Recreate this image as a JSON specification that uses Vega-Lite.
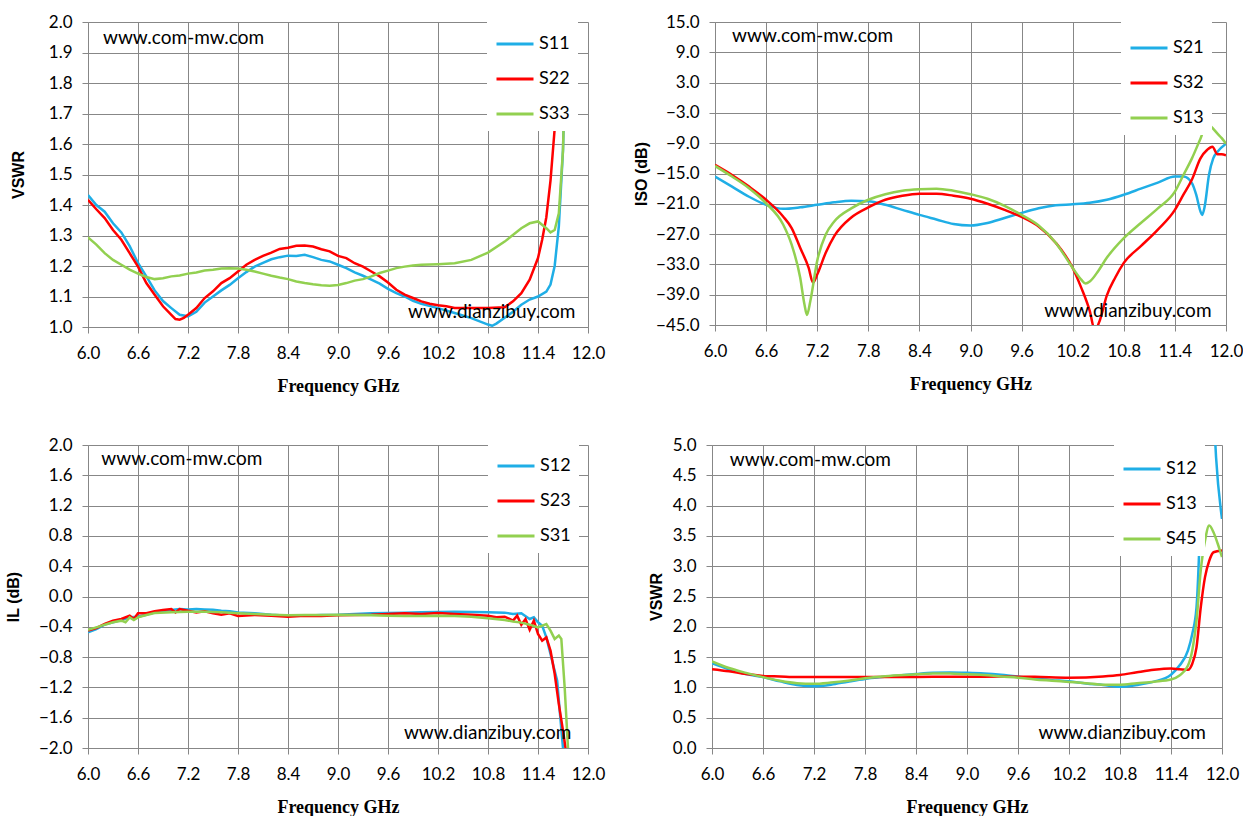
{
"$schema":"https://vega.github.io/schema/vega-lite/v6.json",
"background":"white",
"padding":{"left":5,"top":13,"right":0,"bottom":0},
"config":{
 "font":"Lato",
 "view":{"stroke":null},
 "axis":{"gridColor":"#878787","gridWidth":1,"domainColor":"#878787","domainWidth":1,"tickColor":"#878787","tickSize":6,"labelFont":"Lato","labelFontSize":17,"labelColor":"#000000","labelPadding":10,"labelOverlap":false,"labelFlush":false,"titleColor":"#000000"},
 "axisX":{"titleFont":"Liberation Serif","titleFontSize":18,"titleFontWeight":"bold","titlePadding":16,"labelPadding":12},
 "axisY":{"titleFont":"Liberation Sans","titleFontSize":16,"titleFontWeight":"bold"},
 "legend":{"fillColor":"white","padding":8,"symbolType":"stroke","symbolSize":1369,"symbolStrokeWidth":3,"labelFont":"Lato","labelFontSize":18,"labelColor":"#000000","rowPadding":6,"labelOffset":4,"orient":"none"},
 "text":{"font":"Lato","fontSize":19,"color":"#000000"}
},
"datasets":{
"p1":[
{"f":6.0,"v":1.433,"s":"S11"},{"f":6.1,"v":1.40,"s":"S11"},{"f":6.2,"v":1.378,"s":"S11"},{"f":6.3,"v":1.34,"s":"S11"},{"f":6.4,"v":1.31,"s":"S11"},{"f":6.5,"v":1.265,"s":"S11"},{"f":6.6,"v":1.21,"s":"S11"},{"f":6.7,"v":1.166,"s":"S11"},{"f":6.8,"v":1.12,"s":"S11"},{"f":6.9,"v":1.085,"s":"S11"},{"f":7.0,"v":1.062,"s":"S11"},{"f":7.1,"v":1.04,"s":"S11"},{"f":7.2,"v":1.035,"s":"S11"},{"f":7.3,"v":1.05,"s":"S11"},{"f":7.4,"v":1.08,"s":"S11"},{"f":7.5,"v":1.10,"s":"S11"},{"f":7.6,"v":1.12,"s":"S11"},{"f":7.7,"v":1.138,"s":"S11"},{"f":7.8,"v":1.16,"s":"S11"},{"f":7.9,"v":1.18,"s":"S11"},{"f":8.0,"v":1.198,"s":"S11"},{"f":8.1,"v":1.21,"s":"S11"},{"f":8.2,"v":1.222,"s":"S11"},{"f":8.3,"v":1.229,"s":"S11"},{"f":8.4,"v":1.234,"s":"S11"},{"f":8.5,"v":1.233,"s":"S11"},{"f":8.6,"v":1.237,"s":"S11"},{"f":8.7,"v":1.229,"s":"S11"},{"f":8.8,"v":1.22,"s":"S11"},{"f":8.9,"v":1.215,"s":"S11"},{"f":9.0,"v":1.204,"s":"S11"},{"f":9.1,"v":1.193,"s":"S11"},{"f":9.2,"v":1.179,"s":"S11"},{"f":9.3,"v":1.168,"s":"S11"},{"f":9.4,"v":1.155,"s":"S11"},{"f":9.5,"v":1.142,"s":"S11"},{"f":9.6,"v":1.125,"s":"S11"},{"f":9.7,"v":1.111,"s":"S11"},{"f":9.8,"v":1.10,"s":"S11"},{"f":9.9,"v":1.086,"s":"S11"},{"f":10.0,"v":1.076,"s":"S11"},{"f":10.2,"v":1.062,"s":"S11"},{"f":10.4,"v":1.046,"s":"S11"},{"f":10.6,"v":1.029,"s":"S11"},{"f":10.8,"v":1.008,"s":"S11"},{"f":10.85,"v":1.004,"s":"S11"},{"f":10.9,"v":1.011,"s":"S11"},{"f":11.0,"v":1.03,"s":"S11"},{"f":11.1,"v":1.05,"s":"S11"},{"f":11.2,"v":1.073,"s":"S11"},{"f":11.3,"v":1.09,"s":"S11"},{"f":11.4,"v":1.10,"s":"S11"},{"f":11.5,"v":1.116,"s":"S11"},{"f":11.55,"v":1.139,"s":"S11"},{"f":11.6,"v":1.2,"s":"S11"},{"f":11.65,"v":1.33,"s":"S11"},{"f":11.7,"v":1.58,"s":"S11"},{"f":11.74,"v":2.0,"s":"S11"},{"f":11.76,"v":2.3,"s":"S11"},
{"f":6.0,"v":1.417,"s":"S22"},{"f":6.1,"v":1.386,"s":"S22"},{"f":6.2,"v":1.357,"s":"S22"},{"f":6.3,"v":1.318,"s":"S22"},{"f":6.4,"v":1.286,"s":"S22"},{"f":6.5,"v":1.242,"s":"S22"},{"f":6.6,"v":1.198,"s":"S22"},{"f":6.7,"v":1.144,"s":"S22"},{"f":6.8,"v":1.106,"s":"S22"},{"f":6.9,"v":1.068,"s":"S22"},{"f":7.0,"v":1.04,"s":"S22"},{"f":7.05,"v":1.026,"s":"S22"},{"f":7.1,"v":1.024,"s":"S22"},{"f":7.15,"v":1.03,"s":"S22"},{"f":7.2,"v":1.04,"s":"S22"},{"f":7.3,"v":1.062,"s":"S22"},{"f":7.4,"v":1.095,"s":"S22"},{"f":7.5,"v":1.117,"s":"S22"},{"f":7.6,"v":1.144,"s":"S22"},{"f":7.7,"v":1.16,"s":"S22"},{"f":7.8,"v":1.182,"s":"S22"},{"f":7.9,"v":1.204,"s":"S22"},{"f":8.0,"v":1.22,"s":"S22"},{"f":8.1,"v":1.233,"s":"S22"},{"f":8.2,"v":1.244,"s":"S22"},{"f":8.3,"v":1.256,"s":"S22"},{"f":8.4,"v":1.26,"s":"S22"},{"f":8.5,"v":1.266,"s":"S22"},{"f":8.6,"v":1.267,"s":"S22"},{"f":8.7,"v":1.264,"s":"S22"},{"f":8.8,"v":1.255,"s":"S22"},{"f":8.9,"v":1.248,"s":"S22"},{"f":9.0,"v":1.233,"s":"S22"},{"f":9.1,"v":1.226,"s":"S22"},{"f":9.2,"v":1.209,"s":"S22"},{"f":9.3,"v":1.198,"s":"S22"},{"f":9.4,"v":1.182,"s":"S22"},{"f":9.5,"v":1.166,"s":"S22"},{"f":9.6,"v":1.146,"s":"S22"},{"f":9.7,"v":1.122,"s":"S22"},{"f":9.8,"v":1.106,"s":"S22"},{"f":9.9,"v":1.095,"s":"S22"},{"f":10.0,"v":1.084,"s":"S22"},{"f":10.1,"v":1.076,"s":"S22"},{"f":10.2,"v":1.071,"s":"S22"},{"f":10.3,"v":1.068,"s":"S22"},{"f":10.4,"v":1.062,"s":"S22"},{"f":10.6,"v":1.062,"s":"S22"},{"f":10.8,"v":1.062,"s":"S22"},{"f":11.0,"v":1.065,"s":"S22"},{"f":11.1,"v":1.084,"s":"S22"},{"f":11.2,"v":1.111,"s":"S22"},{"f":11.3,"v":1.155,"s":"S22"},{"f":11.4,"v":1.226,"s":"S22"},{"f":11.45,"v":1.286,"s":"S22"},{"f":11.5,"v":1.36,"s":"S22"},{"f":11.55,"v":1.48,"s":"S22"},{"f":11.6,"v":1.65,"s":"S22"},{"f":11.63,"v":1.81,"s":"S22"},{"f":11.66,"v":2.0,"s":"S22"},{"f":11.68,"v":2.2,"s":"S22"},
{"f":6.0,"v":1.294,"s":"S33"},{"f":6.1,"v":1.27,"s":"S33"},{"f":6.2,"v":1.242,"s":"S33"},{"f":6.3,"v":1.22,"s":"S33"},{"f":6.4,"v":1.204,"s":"S33"},{"f":6.5,"v":1.188,"s":"S33"},{"f":6.6,"v":1.175,"s":"S33"},{"f":6.7,"v":1.164,"s":"S33"},{"f":6.8,"v":1.157,"s":"S33"},{"f":6.9,"v":1.16,"s":"S33"},{"f":7.0,"v":1.166,"s":"S33"},{"f":7.1,"v":1.169,"s":"S33"},{"f":7.2,"v":1.175,"s":"S33"},{"f":7.3,"v":1.179,"s":"S33"},{"f":7.4,"v":1.185,"s":"S33"},{"f":7.5,"v":1.188,"s":"S33"},{"f":7.6,"v":1.192,"s":"S33"},{"f":7.7,"v":1.193,"s":"S33"},{"f":7.8,"v":1.192,"s":"S33"},{"f":7.9,"v":1.188,"s":"S33"},{"f":8.0,"v":1.182,"s":"S33"},{"f":8.1,"v":1.175,"s":"S33"},{"f":8.2,"v":1.168,"s":"S33"},{"f":8.3,"v":1.162,"s":"S33"},{"f":8.4,"v":1.157,"s":"S33"},{"f":8.5,"v":1.149,"s":"S33"},{"f":8.6,"v":1.144,"s":"S33"},{"f":8.7,"v":1.14,"s":"S33"},{"f":8.8,"v":1.137,"s":"S33"},{"f":8.9,"v":1.135,"s":"S33"},{"f":9.0,"v":1.138,"s":"S33"},{"f":9.1,"v":1.144,"s":"S33"},{"f":9.2,"v":1.152,"s":"S33"},{"f":9.3,"v":1.157,"s":"S33"},{"f":9.4,"v":1.166,"s":"S33"},{"f":9.5,"v":1.177,"s":"S33"},{"f":9.6,"v":1.185,"s":"S33"},{"f":9.7,"v":1.193,"s":"S33"},{"f":9.8,"v":1.198,"s":"S33"},{"f":9.9,"v":1.202,"s":"S33"},{"f":10.0,"v":1.204,"s":"S33"},{"f":10.2,"v":1.206,"s":"S33"},{"f":10.4,"v":1.209,"s":"S33"},{"f":10.6,"v":1.22,"s":"S33"},{"f":10.8,"v":1.244,"s":"S33"},{"f":11.0,"v":1.28,"s":"S33"},{"f":11.2,"v":1.324,"s":"S33"},{"f":11.3,"v":1.34,"s":"S33"},{"f":11.4,"v":1.346,"s":"S33"},{"f":11.5,"v":1.324,"s":"S33"},{"f":11.55,"v":1.31,"s":"S33"},{"f":11.6,"v":1.318,"s":"S33"},{"f":11.65,"v":1.373,"s":"S33"},{"f":11.7,"v":1.58,"s":"S33"},{"f":11.74,"v":2.0,"s":"S33"},{"f":11.76,"v":2.3,"s":"S33"}
],
"p2":[
{"f":6.0,"v":-15.6,"s":"S21"},{"f":6.2,"v":-17.6,"s":"S21"},{"f":6.4,"v":-19.6,"s":"S21"},{"f":6.6,"v":-21.2,"s":"S21"},{"f":6.8,"v":-22.0,"s":"S21"},{"f":7.0,"v":-21.7,"s":"S21"},{"f":7.2,"v":-21.2,"s":"S21"},{"f":7.4,"v":-20.7,"s":"S21"},{"f":7.6,"v":-20.4,"s":"S21"},{"f":7.8,"v":-20.5,"s":"S21"},{"f":8.0,"v":-21.2,"s":"S21"},{"f":8.2,"v":-22.2,"s":"S21"},{"f":8.4,"v":-23.2,"s":"S21"},{"f":8.6,"v":-24.1,"s":"S21"},{"f":8.8,"v":-25.0,"s":"S21"},{"f":9.0,"v":-25.3,"s":"S21"},{"f":9.2,"v":-24.8,"s":"S21"},{"f":9.4,"v":-23.8,"s":"S21"},{"f":9.6,"v":-22.8,"s":"S21"},{"f":9.8,"v":-21.9,"s":"S21"},{"f":10.0,"v":-21.3,"s":"S21"},{"f":10.2,"v":-21.1,"s":"S21"},{"f":10.4,"v":-20.8,"s":"S21"},{"f":10.6,"v":-20.2,"s":"S21"},{"f":10.8,"v":-19.2,"s":"S21"},{"f":11.0,"v":-18.0,"s":"S21"},{"f":11.2,"v":-16.8,"s":"S21"},{"f":11.4,"v":-15.6,"s":"S21"},{"f":11.5,"v":-15.6,"s":"S21"},{"f":11.6,"v":-16.9,"s":"S21"},{"f":11.65,"v":-19.2,"s":"S21"},{"f":11.7,"v":-22.5,"s":"S21"},{"f":11.72,"v":-23.2,"s":"S21"},{"f":11.75,"v":-21.5,"s":"S21"},{"f":11.8,"v":-15.3,"s":"S21"},{"f":11.85,"v":-12.0,"s":"S21"},{"f":11.9,"v":-10.7,"s":"S21"},{"f":12.0,"v":-9.1,"s":"S21"},
{"f":6.0,"v":-13.3,"s":"S32"},{"f":6.2,"v":-15.3,"s":"S32"},{"f":6.4,"v":-17.6,"s":"S32"},{"f":6.6,"v":-20.2,"s":"S32"},{"f":6.8,"v":-23.5,"s":"S32"},{"f":6.9,"v":-25.8,"s":"S32"},{"f":7.0,"v":-29.7,"s":"S32"},{"f":7.1,"v":-33.7,"s":"S32"},{"f":7.15,"v":-36.6,"s":"S32"},{"f":7.2,"v":-35.0,"s":"S32"},{"f":7.3,"v":-30.7,"s":"S32"},{"f":7.4,"v":-27.4,"s":"S32"},{"f":7.6,"v":-23.7,"s":"S32"},{"f":7.8,"v":-21.7,"s":"S32"},{"f":8.0,"v":-20.2,"s":"S32"},{"f":8.2,"v":-19.4,"s":"S32"},{"f":8.4,"v":-19.0,"s":"S32"},{"f":8.6,"v":-19.0,"s":"S32"},{"f":8.8,"v":-19.4,"s":"S32"},{"f":9.0,"v":-20.0,"s":"S32"},{"f":9.2,"v":-21.0,"s":"S32"},{"f":9.4,"v":-22.2,"s":"S32"},{"f":9.6,"v":-23.6,"s":"S32"},{"f":9.8,"v":-25.5,"s":"S32"},{"f":10.0,"v":-28.7,"s":"S32"},{"f":10.2,"v":-33.7,"s":"S32"},{"f":10.3,"v":-37.6,"s":"S32"},{"f":10.4,"v":-42.2,"s":"S32"},{"f":10.46,"v":-46.0,"s":"S32"},{"f":10.52,"v":-44.0,"s":"S32"},{"f":10.6,"v":-39.2,"s":"S32"},{"f":10.7,"v":-35.6,"s":"S32"},{"f":10.8,"v":-32.7,"s":"S32"},{"f":11.0,"v":-29.4,"s":"S32"},{"f":11.2,"v":-26.1,"s":"S32"},{"f":11.4,"v":-22.2,"s":"S32"},{"f":11.5,"v":-19.2,"s":"S32"},{"f":11.6,"v":-16.2,"s":"S32"},{"f":11.7,"v":-12.0,"s":"S32"},{"f":11.78,"v":-10.3,"s":"S32"},{"f":11.84,"v":-9.7,"s":"S32"},{"f":11.9,"v":-11.2,"s":"S32"},{"f":11.95,"v":-11.2,"s":"S32"},{"f":12.0,"v":-11.4,"s":"S32"},
{"f":6.0,"v":-13.5,"s":"S13"},{"f":6.2,"v":-15.6,"s":"S13"},{"f":6.4,"v":-17.9,"s":"S13"},{"f":6.6,"v":-20.9,"s":"S13"},{"f":6.8,"v":-25.1,"s":"S13"},{"f":6.9,"v":-29.1,"s":"S13"},{"f":7.0,"v":-35.6,"s":"S13"},{"f":7.05,"v":-40.9,"s":"S13"},{"f":7.08,"v":-43.0,"s":"S13"},{"f":7.12,"v":-40.2,"s":"S13"},{"f":7.2,"v":-32.3,"s":"S13"},{"f":7.3,"v":-27.1,"s":"S13"},{"f":7.4,"v":-24.5,"s":"S13"},{"f":7.6,"v":-21.9,"s":"S13"},{"f":7.8,"v":-20.2,"s":"S13"},{"f":8.0,"v":-19.1,"s":"S13"},{"f":8.2,"v":-18.4,"s":"S13"},{"f":8.4,"v":-18.1,"s":"S13"},{"f":8.6,"v":-18.0,"s":"S13"},{"f":8.8,"v":-18.4,"s":"S13"},{"f":9.0,"v":-19.1,"s":"S13"},{"f":9.2,"v":-20.0,"s":"S13"},{"f":9.4,"v":-21.4,"s":"S13"},{"f":9.6,"v":-23.2,"s":"S13"},{"f":9.8,"v":-25.3,"s":"S13"},{"f":10.0,"v":-28.7,"s":"S13"},{"f":10.2,"v":-33.7,"s":"S13"},{"f":10.3,"v":-36.0,"s":"S13"},{"f":10.35,"v":-36.8,"s":"S13"},{"f":10.4,"v":-36.4,"s":"S13"},{"f":10.5,"v":-34.3,"s":"S13"},{"f":10.6,"v":-31.7,"s":"S13"},{"f":10.8,"v":-27.8,"s":"S13"},{"f":11.0,"v":-24.8,"s":"S13"},{"f":11.2,"v":-21.9,"s":"S13"},{"f":11.4,"v":-18.6,"s":"S13"},{"f":11.5,"v":-15.3,"s":"S13"},{"f":11.6,"v":-12.0,"s":"S13"},{"f":11.7,"v":-8.1,"s":"S13"},{"f":11.78,"v":-5.0,"s":"S13"},{"f":11.82,"v":-5.6,"s":"S13"},{"f":11.9,"v":-7.1,"s":"S13"},{"f":11.95,"v":-8.0,"s":"S13"},{"f":12.0,"v":-9.1,"s":"S13"}
],
"p3":[
{"f":6.0,"v":-0.473,"s":"S12"},{"f":6.1,"v":-0.43,"s":"S12"},{"f":6.2,"v":-0.37,"s":"S12"},{"f":6.3,"v":-0.34,"s":"S12"},{"f":6.4,"v":-0.31,"s":"S12"},{"f":6.5,"v":-0.275,"s":"S12"},{"f":6.6,"v":-0.266,"s":"S12"},{"f":6.7,"v":-0.24,"s":"S12"},{"f":6.8,"v":-0.21,"s":"S12"},{"f":6.9,"v":-0.19,"s":"S12"},{"f":7.0,"v":-0.178,"s":"S12"},{"f":7.1,"v":-0.165,"s":"S12"},{"f":7.2,"v":-0.17,"s":"S12"},{"f":7.3,"v":-0.165,"s":"S12"},{"f":7.4,"v":-0.17,"s":"S12"},{"f":7.5,"v":-0.174,"s":"S12"},{"f":7.6,"v":-0.187,"s":"S12"},{"f":7.7,"v":-0.196,"s":"S12"},{"f":7.8,"v":-0.21,"s":"S12"},{"f":8.0,"v":-0.222,"s":"S12"},{"f":8.2,"v":-0.24,"s":"S12"},{"f":8.4,"v":-0.253,"s":"S12"},{"f":8.6,"v":-0.253,"s":"S12"},{"f":8.8,"v":-0.244,"s":"S12"},{"f":9.0,"v":-0.24,"s":"S12"},{"f":9.2,"v":-0.231,"s":"S12"},{"f":9.4,"v":-0.222,"s":"S12"},{"f":9.6,"v":-0.218,"s":"S12"},{"f":9.8,"v":-0.213,"s":"S12"},{"f":10.0,"v":-0.209,"s":"S12"},{"f":10.2,"v":-0.205,"s":"S12"},{"f":10.4,"v":-0.2,"s":"S12"},{"f":10.6,"v":-0.205,"s":"S12"},{"f":10.8,"v":-0.209,"s":"S12"},{"f":11.0,"v":-0.213,"s":"S12"},{"f":11.1,"v":-0.231,"s":"S12"},{"f":11.2,"v":-0.222,"s":"S12"},{"f":11.3,"v":-0.297,"s":"S12"},{"f":11.35,"v":-0.275,"s":"S12"},{"f":11.4,"v":-0.34,"s":"S12"},{"f":11.45,"v":-0.385,"s":"S12"},{"f":11.5,"v":-0.54,"s":"S12"},{"f":11.55,"v":-0.76,"s":"S12"},{"f":11.6,"v":-0.98,"s":"S12"},{"f":11.63,"v":-1.11,"s":"S12"},{"f":11.66,"v":-1.5,"s":"S12"},{"f":11.7,"v":-2.0,"s":"S12"},{"f":11.72,"v":-2.2,"s":"S12"},
{"f":6.0,"v":-0.45,"s":"S23"},{"f":6.1,"v":-0.416,"s":"S23"},{"f":6.2,"v":-0.363,"s":"S23"},{"f":6.3,"v":-0.319,"s":"S23"},{"f":6.4,"v":-0.297,"s":"S23"},{"f":6.5,"v":-0.253,"s":"S23"},{"f":6.55,"v":-0.297,"s":"S23"},{"f":6.6,"v":-0.222,"s":"S23"},{"f":6.7,"v":-0.222,"s":"S23"},{"f":6.8,"v":-0.196,"s":"S23"},{"f":6.9,"v":-0.178,"s":"S23"},{"f":7.0,"v":-0.165,"s":"S23"},{"f":7.05,"v":-0.21,"s":"S23"},{"f":7.1,"v":-0.165,"s":"S23"},{"f":7.2,"v":-0.187,"s":"S23"},{"f":7.3,"v":-0.21,"s":"S23"},{"f":7.4,"v":-0.196,"s":"S23"},{"f":7.5,"v":-0.222,"s":"S23"},{"f":7.6,"v":-0.24,"s":"S23"},{"f":7.7,"v":-0.222,"s":"S23"},{"f":7.8,"v":-0.257,"s":"S23"},{"f":8.0,"v":-0.244,"s":"S23"},{"f":8.2,"v":-0.253,"s":"S23"},{"f":8.4,"v":-0.266,"s":"S23"},{"f":8.6,"v":-0.253,"s":"S23"},{"f":8.8,"v":-0.257,"s":"S23"},{"f":9.0,"v":-0.248,"s":"S23"},{"f":9.2,"v":-0.244,"s":"S23"},{"f":9.4,"v":-0.24,"s":"S23"},{"f":9.6,"v":-0.231,"s":"S23"},{"f":9.8,"v":-0.222,"s":"S23"},{"f":10.0,"v":-0.231,"s":"S23"},{"f":10.2,"v":-0.218,"s":"S23"},{"f":10.4,"v":-0.231,"s":"S23"},{"f":10.6,"v":-0.24,"s":"S23"},{"f":10.8,"v":-0.253,"s":"S23"},{"f":10.9,"v":-0.275,"s":"S23"},{"f":11.0,"v":-0.266,"s":"S23"},{"f":11.1,"v":-0.319,"s":"S23"},{"f":11.15,"v":-0.253,"s":"S23"},{"f":11.2,"v":-0.372,"s":"S23"},{"f":11.25,"v":-0.297,"s":"S23"},{"f":11.3,"v":-0.44,"s":"S23"},{"f":11.35,"v":-0.319,"s":"S23"},{"f":11.4,"v":-0.495,"s":"S23"},{"f":11.45,"v":-0.583,"s":"S23"},{"f":11.5,"v":-0.54,"s":"S23"},{"f":11.55,"v":-0.715,"s":"S23"},{"f":11.6,"v":-1.02,"s":"S23"},{"f":11.65,"v":-1.42,"s":"S23"},{"f":11.7,"v":-1.77,"s":"S23"},{"f":11.73,"v":-2.0,"s":"S23"},{"f":11.75,"v":-2.2,"s":"S23"},
{"f":6.0,"v":-0.44,"s":"S31"},{"f":6.1,"v":-0.407,"s":"S31"},{"f":6.2,"v":-0.372,"s":"S31"},{"f":6.3,"v":-0.34,"s":"S31"},{"f":6.4,"v":-0.319,"s":"S31"},{"f":6.45,"v":-0.34,"s":"S31"},{"f":6.5,"v":-0.275,"s":"S31"},{"f":6.55,"v":-0.31,"s":"S31"},{"f":6.6,"v":-0.275,"s":"S31"},{"f":6.7,"v":-0.244,"s":"S31"},{"f":6.8,"v":-0.218,"s":"S31"},{"f":7.0,"v":-0.209,"s":"S31"},{"f":7.2,"v":-0.2,"s":"S31"},{"f":7.4,"v":-0.2,"s":"S31"},{"f":7.6,"v":-0.209,"s":"S31"},{"f":7.8,"v":-0.222,"s":"S31"},{"f":8.0,"v":-0.231,"s":"S31"},{"f":8.2,"v":-0.24,"s":"S31"},{"f":8.4,"v":-0.248,"s":"S31"},{"f":8.6,"v":-0.244,"s":"S31"},{"f":8.8,"v":-0.244,"s":"S31"},{"f":9.0,"v":-0.24,"s":"S31"},{"f":9.2,"v":-0.244,"s":"S31"},{"f":9.4,"v":-0.248,"s":"S31"},{"f":9.6,"v":-0.253,"s":"S31"},{"f":9.8,"v":-0.257,"s":"S31"},{"f":10.0,"v":-0.257,"s":"S31"},{"f":10.2,"v":-0.253,"s":"S31"},{"f":10.4,"v":-0.257,"s":"S31"},{"f":10.6,"v":-0.266,"s":"S31"},{"f":10.8,"v":-0.288,"s":"S31"},{"f":11.0,"v":-0.31,"s":"S31"},{"f":11.1,"v":-0.33,"s":"S31"},{"f":11.2,"v":-0.345,"s":"S31"},{"f":11.3,"v":-0.372,"s":"S31"},{"f":11.4,"v":-0.407,"s":"S31"},{"f":11.5,"v":-0.363,"s":"S31"},{"f":11.55,"v":-0.45,"s":"S31"},{"f":11.6,"v":-0.56,"s":"S31"},{"f":11.65,"v":-0.515,"s":"S31"},{"f":11.68,"v":-0.56,"s":"S31"},{"f":11.72,"v":-1.2,"s":"S31"},{"f":11.76,"v":-2.0,"s":"S31"},{"f":11.78,"v":-2.2,"s":"S31"}
],
"p4":[
{"f":6.0,"v":1.40,"s":"S12"},{"f":6.2,"v":1.30,"s":"S12"},{"f":6.4,"v":1.22,"s":"S12"},{"f":6.6,"v":1.17,"s":"S12"},{"f":6.8,"v":1.10,"s":"S12"},{"f":7.0,"v":1.04,"s":"S12"},{"f":7.2,"v":1.02,"s":"S12"},{"f":7.4,"v":1.045,"s":"S12"},{"f":7.6,"v":1.095,"s":"S12"},{"f":7.8,"v":1.14,"s":"S12"},{"f":8.0,"v":1.17,"s":"S12"},{"f":8.2,"v":1.195,"s":"S12"},{"f":8.4,"v":1.22,"s":"S12"},{"f":8.6,"v":1.24,"s":"S12"},{"f":8.8,"v":1.245,"s":"S12"},{"f":9.0,"v":1.24,"s":"S12"},{"f":9.2,"v":1.23,"s":"S12"},{"f":9.4,"v":1.21,"s":"S12"},{"f":9.6,"v":1.18,"s":"S12"},{"f":9.8,"v":1.145,"s":"S12"},{"f":10.0,"v":1.12,"s":"S12"},{"f":10.2,"v":1.10,"s":"S12"},{"f":10.4,"v":1.065,"s":"S12"},{"f":10.6,"v":1.04,"s":"S12"},{"f":10.8,"v":1.01,"s":"S12"},{"f":11.0,"v":1.04,"s":"S12"},{"f":11.2,"v":1.095,"s":"S12"},{"f":11.4,"v":1.21,"s":"S12"},{"f":11.5,"v":1.36,"s":"S12"},{"f":11.6,"v":1.61,"s":"S12"},{"f":11.65,"v":1.88,"s":"S12"},{"f":11.7,"v":2.32,"s":"S12"},{"f":11.73,"v":3.2,"s":"S12"},{"f":11.76,"v":4.6,"s":"S12"},{"f":11.78,"v":5.6,"s":"S12"},{"f":11.84,"v":7.0,"s":"S12"},{"f":11.9,"v":5.6,"s":"S12"},{"f":11.93,"v":4.8,"s":"S12"},{"f":12.0,"v":3.78,"s":"S12"},
{"f":6.0,"v":1.30,"s":"S13"},{"f":6.2,"v":1.265,"s":"S13"},{"f":6.4,"v":1.22,"s":"S13"},{"f":6.6,"v":1.19,"s":"S13"},{"f":6.8,"v":1.18,"s":"S13"},{"f":7.0,"v":1.17,"s":"S13"},{"f":7.4,"v":1.17,"s":"S13"},{"f":7.8,"v":1.17,"s":"S13"},{"f":8.2,"v":1.17,"s":"S13"},{"f":8.6,"v":1.175,"s":"S13"},{"f":9.0,"v":1.175,"s":"S13"},{"f":9.4,"v":1.18,"s":"S13"},{"f":9.8,"v":1.175,"s":"S13"},{"f":10.2,"v":1.16,"s":"S13"},{"f":10.6,"v":1.18,"s":"S13"},{"f":10.8,"v":1.205,"s":"S13"},{"f":11.0,"v":1.25,"s":"S13"},{"f":11.2,"v":1.29,"s":"S13"},{"f":11.4,"v":1.31,"s":"S13"},{"f":11.5,"v":1.30,"s":"S13"},{"f":11.6,"v":1.29,"s":"S13"},{"f":11.65,"v":1.39,"s":"S13"},{"f":11.7,"v":1.66,"s":"S13"},{"f":11.75,"v":2.32,"s":"S13"},{"f":11.8,"v":2.82,"s":"S13"},{"f":11.85,"v":3.09,"s":"S13"},{"f":11.9,"v":3.23,"s":"S13"},{"f":12.0,"v":3.26,"s":"S13"},
{"f":6.0,"v":1.43,"s":"S45"},{"f":6.2,"v":1.32,"s":"S45"},{"f":6.4,"v":1.24,"s":"S45"},{"f":6.6,"v":1.17,"s":"S45"},{"f":6.8,"v":1.11,"s":"S45"},{"f":7.0,"v":1.07,"s":"S45"},{"f":7.2,"v":1.06,"s":"S45"},{"f":7.4,"v":1.08,"s":"S45"},{"f":7.6,"v":1.11,"s":"S45"},{"f":7.8,"v":1.15,"s":"S45"},{"f":8.0,"v":1.18,"s":"S45"},{"f":8.2,"v":1.20,"s":"S45"},{"f":8.4,"v":1.215,"s":"S45"},{"f":8.6,"v":1.23,"s":"S45"},{"f":8.8,"v":1.23,"s":"S45"},{"f":9.0,"v":1.215,"s":"S45"},{"f":9.2,"v":1.205,"s":"S45"},{"f":9.4,"v":1.18,"s":"S45"},{"f":9.6,"v":1.16,"s":"S45"},{"f":9.8,"v":1.13,"s":"S45"},{"f":10.0,"v":1.11,"s":"S45"},{"f":10.2,"v":1.09,"s":"S45"},{"f":10.4,"v":1.07,"s":"S45"},{"f":10.6,"v":1.045,"s":"S45"},{"f":10.8,"v":1.045,"s":"S45"},{"f":11.0,"v":1.07,"s":"S45"},{"f":11.2,"v":1.095,"s":"S45"},{"f":11.4,"v":1.13,"s":"S45"},{"f":11.5,"v":1.195,"s":"S45"},{"f":11.6,"v":1.36,"s":"S45"},{"f":11.65,"v":1.61,"s":"S45"},{"f":11.7,"v":2.1,"s":"S45"},{"f":11.75,"v":2.93,"s":"S45"},{"f":11.8,"v":3.42,"s":"S45"},{"f":11.85,"v":3.67,"s":"S45"},{"f":11.9,"v":3.56,"s":"S45"},{"f":11.95,"v":3.37,"s":"S45"},{"f":12.0,"v":3.15,"s":"S45"}
],
"w1":[{"f":6.18,"v":1.949,"t":"www.com-mw.com"},{"f":11.85,"v":1.048,"t":"www.dianzibuy.com"}],
"w2":[{"f":6.2,"v":12.2,"t":"www.com-mw.com"},{"f":11.83,"v":-42.3,"t":"www.dianzibuy.com"}],
"w3":[{"f":6.16,"v":1.81,"t":"www.com-mw.com"},{"f":11.8,"v":-1.8,"t":"www.dianzibuy.com"}],
"w4":[{"f":6.21,"v":4.76,"t":"www.com-mw.com"},{"f":11.81,"v":0.25,"t":"www.dianzibuy.com"}]
},
"spacing":41,
"resolve":{"scale":{"color":"independent"},"legend":{"color":"independent"}},
"vconcat":[
{"hconcat":[
 {"width":500,"height":305,
  "layer":[
   {"data":{"name":"p1"},"mark":{"type":"line","clip":true,"strokeWidth":2.5},
    "encoding":{
     "x":{"field":"f","type":"quantitative","scale":{"domain":[6,12],"nice":false,"zero":false},"axis":{"title":"Frequency GHz","values":[6,6.6,7.2,7.8,8.4,9,9.6,10.2,10.8,11.4,12],"format":".1f","labelOverlap":false,"tickCount":20}},
     "y":{"field":"v","type":"quantitative","scale":{"domain":[1,2],"nice":false,"zero":false},"axis":{"title":"VSWR","values":[1,1.1,1.2,1.3,1.4,1.5,1.6,1.7,1.8,1.9,2],"format":".1f","titlePadding":22,"labelOverlap":false,"tickCount":20}},
     "color":{"field":"s","type":"nominal","scale":{"domain":["S11","S22","S33"],"range":["#1FAEE6","#FF0000","#92D050"]},"legend":{"title":null,"legendX":399,"legendY":-6}}}},
   {"data":{"name":"w1"},"transform":[{"filter":"datum.t == 'www.com-mw.com'"}],"mark":{"type":"text","align":"left","baseline":"middle"},
    "encoding":{"x":{"field":"f","type":"quantitative"},"y":{"field":"v","type":"quantitative"},"text":{"field":"t"}}},
   {"data":{"name":"w1"},"transform":[{"filter":"datum.t == 'www.dianzibuy.com'"}],"mark":{"type":"text","align":"right","baseline":"middle"},
    "encoding":{"x":{"field":"f","type":"quantitative"},"y":{"field":"v","type":"quantitative"},"text":{"field":"t"}}}
  ]},
 {"width":511,"height":303,
  "layer":[
   {"data":{"name":"p2"},"mark":{"type":"line","clip":true,"strokeWidth":2.5,"interpolate":"monotone"},
    "encoding":{
     "x":{"field":"f","type":"quantitative","scale":{"domain":[6,12],"nice":false,"zero":false},"axis":{"title":"Frequency GHz","values":[6,6.6,7.2,7.8,8.4,9,9.6,10.2,10.8,11.4,12],"format":".1f","labelOverlap":false,"tickCount":20}},
     "y":{"field":"v","type":"quantitative","scale":{"domain":[-45,15],"nice":false,"zero":false},"axis":{"title":"ISO (dB)","values":[-45,-39,-33,-27,-21,-15,-9,-3,3,9,15],"format":".1f","titlePadding":6,"labelOverlap":false,"tickCount":20}},
     "color":{"field":"s","type":"nominal","scale":{"domain":["S21","S32","S13"],"range":["#1FAEE6","#FF0000","#92D050"]},"legend":{"title":null,"legendX":406,"legendY":-2}}}},
   {"data":{"name":"w2"},"transform":[{"filter":"datum.t == 'www.com-mw.com'"}],"mark":{"type":"text","align":"left","baseline":"middle"},
    "encoding":{"x":{"field":"f","type":"quantitative"},"y":{"field":"v","type":"quantitative"},"text":{"field":"t"}}},
   {"data":{"name":"w2"},"transform":[{"filter":"datum.t == 'www.dianzibuy.com'"}],"mark":{"type":"text","align":"right","baseline":"middle"},
    "encoding":{"x":{"field":"f","type":"quantitative"},"y":{"field":"v","type":"quantitative"},"text":{"field":"t"}}}
  ]}
 ],"spacing":28,"resolve":{"scale":{"color":"independent"},"legend":{"color":"independent"}}},
{"hconcat":[
 {"width":500,"height":303,
  "layer":[
   {"data":{"name":"p3"},"mark":{"type":"line","clip":true,"strokeWidth":2.5},
    "encoding":{
     "x":{"field":"f","type":"quantitative","scale":{"domain":[6,12],"nice":false,"zero":false},"axis":{"title":"Frequency GHz","values":[6,6.6,7.2,7.8,8.4,9,9.6,10.2,10.8,11.4,12],"format":".1f","labelOverlap":false,"tickCount":20}},
     "y":{"field":"v","type":"quantitative","scale":{"domain":[-2,2],"nice":false,"zero":false},"axis":{"title":"IL (dB)","values":[-2,-1.6,-1.2,-0.8,-0.4,0,0.4,0.8,1.2,1.6,2],"format":".1f","titlePadding":17,"labelOverlap":false,"tickCount":20}},
     "color":{"field":"s","type":"nominal","scale":{"domain":["S12","S23","S31"],"range":["#1FAEE6","#FF0000","#92D050"]},"legend":{"title":null,"legendX":400,"legendY":-7}}}},
   {"data":{"name":"w3"},"transform":[{"filter":"datum.t == 'www.com-mw.com'"}],"mark":{"type":"text","align":"left","baseline":"middle"},
    "encoding":{"x":{"field":"f","type":"quantitative"},"y":{"field":"v","type":"quantitative"},"text":{"field":"t"}}},
   {"data":{"name":"w3"},"transform":[{"filter":"datum.t == 'www.dianzibuy.com'"}],"mark":{"type":"text","align":"right","baseline":"middle"},
    "encoding":{"x":{"field":"f","type":"quantitative"},"y":{"field":"v","type":"quantitative"},"text":{"field":"t"}}}
  ]},
 {"width":510,"height":303,
  "layer":[
   {"data":{"name":"p4"},"mark":{"type":"line","clip":true,"strokeWidth":2.5,"interpolate":"monotone"},
    "encoding":{
     "x":{"field":"f","type":"quantitative","scale":{"domain":[6,12],"nice":false,"zero":false},"axis":{"title":"Frequency GHz","values":[6,6.6,7.2,7.8,8.4,9,9.6,10.2,10.8,11.4,12],"format":".1f","labelOverlap":false,"tickCount":20}},
     "y":{"field":"v","type":"quantitative","scale":{"domain":[0,5],"nice":false,"zero":false},"axis":{"title":"VSWR","values":[0,0.5,1,1.5,2,2.5,3,3.5,4,4.5,5],"format":".1f","titlePadding":8,"labelOverlap":false,"tickCount":20}},
     "color":{"field":"s","type":"nominal","scale":{"domain":["S12","S13","S45"],"range":["#1FAEE6","#FF0000","#92D050"]},"legend":{"title":null,"legendX":402,"legendY":-4}}}},
   {"data":{"name":"w4"},"transform":[{"filter":"datum.t == 'www.com-mw.com'"}],"mark":{"type":"text","align":"left","baseline":"middle"},
    "encoding":{"x":{"field":"f","type":"quantitative"},"y":{"field":"v","type":"quantitative"},"text":{"field":"t"}}},
   {"data":{"name":"w4"},"transform":[{"filter":"datum.t == 'www.dianzibuy.com'"}],"mark":{"type":"text","align":"right","baseline":"middle"},
    "encoding":{"x":{"field":"f","type":"quantitative"},"y":{"field":"v","type":"quantitative"},"text":{"field":"t"}}}
  ]}
 ],"spacing":43,"resolve":{"scale":{"color":"independent"},"legend":{"color":"independent"}}}
]
}
